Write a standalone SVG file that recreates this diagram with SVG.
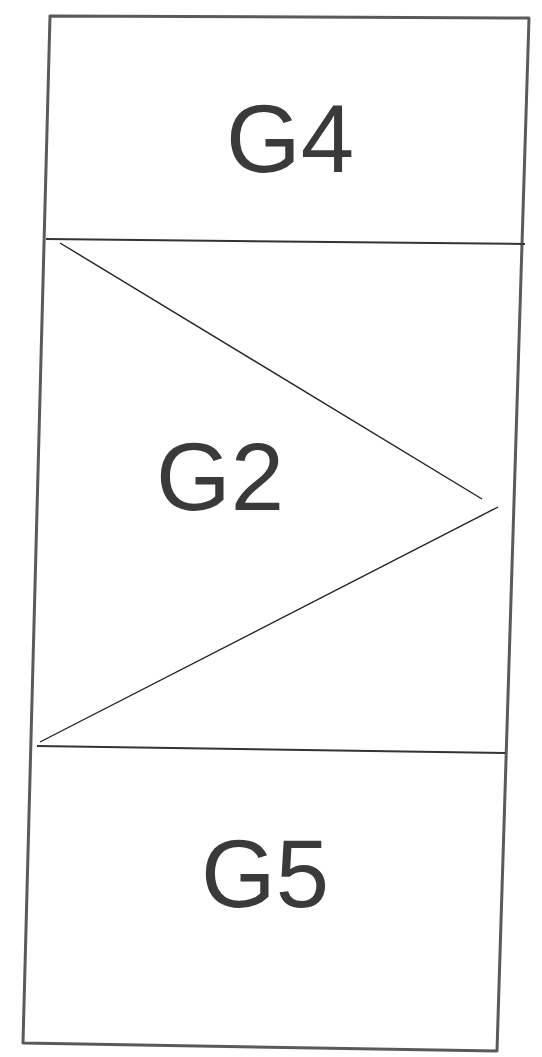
<svg xmlns="http://www.w3.org/2000/svg" width="542" height="1057" viewBox="0 0 542 1057">
<style>
.frame{fill:none;stroke:#5a5a5a;stroke-width:3;stroke-linejoin:round}
.div{fill:none;stroke:#333;stroke-width:2}
.diag{fill:none;stroke:#222;stroke-width:1.4}
.lbl{font-family:"Liberation Sans",Arial,sans-serif;font-size:96px;fill:#3a3a3a;text-anchor:middle}
</style>
<rect width="542" height="1057" fill="#fff"/>
<g id="frame">
<polygon class="frame" points="50,16 529,18 497,1051 23,1043"/>
</g>
<g id="G4">
<text class="lbl" x="290" y="172">G4</text>
</g>
<g id="G2">
<text class="lbl" x="220" y="510">G2</text>
</g>
<g id="G5">
<text class="lbl" x="265" y="907">G5</text>
</g>
<g id="connectors">
<line class="div" x1="46" y1="239" x2="525" y2="244"/>
<line class="div" x1="37" y1="746" x2="505" y2="753"/>
<line class="diag" x1="60" y1="243" x2="482" y2="499"/>
<line class="diag" x1="498" y1="507" x2="40" y2="742"/>
</g>
</svg>
